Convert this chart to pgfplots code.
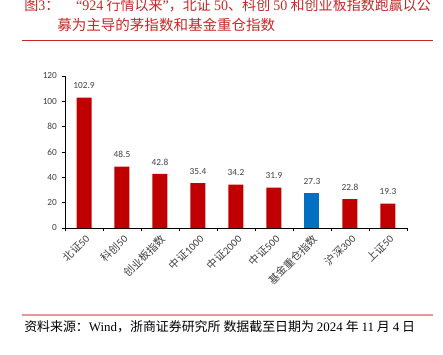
\documentclass[border=0pt]{standalone}
\usepackage{fontspec}
\setmainfont{Carlito}
\newfontfamily\cjk{Noto Sans CJK SC}
\newfontfamily\serifl{Liberation Serif}
\usepackage{graphicx}
\usepackage{pgfplots}
\pgfplotsset{compat=1.18}
\definecolor{barred}{HTML}{C00000}
\definecolor{barblue}{HTML}{0070C0}
\definecolor{titlered}{HTML}{C62828}
\definecolor{rulepink}{HTML}{E59A9A}
\definecolor{labgray}{HTML}{404040}
\begin{document}
\begin{tikzpicture}[x=0.75pt,y=0.75pt]
\useasboundingbox (0,0) rectangle (443,354);
% title
\node[anchor=base west, inner sep=0pt, text=titlered, font=\fontsize{10.9pt}{12pt}\selectfont] at (24,343)
  {\resizebox{305pt}{\height}{{\cjk 图}{\serifl 3}{\cjk ：}\hspace{1.2em}{\serifl “924} {\cjk 行情以来}{\serifl ”}{\cjk ，北证} {\serifl 50}{\cjk 、科创} {\serifl 50} {\cjk 和创业板指数跑赢以公}}};
\node[anchor=base west, inner sep=0pt, text=titlered, font=\fontsize{10.9pt}{12pt}\selectfont] at (57,323)
  {{\cjk 募为主导的茅指数和基金重仓指数}};
\draw[titlered, line width=0.75pt] (22,313.5) -- (433,313.5);
% bottom rule and source
\draw[rulepink, line width=1.1pt] (22,39) -- (433,39);
\node[anchor=base west, inner sep=0pt, text=black, font=\fontsize{9.7pt}{10pt}\selectfont] at (24,22.5)
  {{\cjk 资料来源：}{\serifl Wind}{\cjk ，浙商证券研究所 数据截至日期为} {\serifl 2024} {\cjk 年} {\serifl 11} {\cjk 月} {\serifl 4} {\cjk 日}};
\begin{axis}[
  at={(48.75pt,94.5pt)}, anchor=south west,
  scale only axis, width=256.5pt, height=114pt,
  xmin=-0.5, xmax=8.5, ymin=0, ymax=120,
  axis x line*=bottom, axis y line*=left,
  axis line style={black, line width=0.6pt},
  ytick={0,20,...,120},
  xtick={0,...,8},
  xticklabels={{\cjk 北证}50,{\cjk 科创}50,{\cjk 创业板指数},{\cjk 中证}1000,{\cjk 中证}2000,{\cjk 中证}500,{\cjk 基金重仓指数},{\cjk 沪深}300,{\cjk 上证}50},
  minor xtick={-0.5,0.5,...,8.5},
  major x tick style={draw=none},
  minor x tick style={black, line width=0.6pt},
  y tick style={black, line width=0.6pt},
  tick align=outside,
  major tick length=2.5pt, minor tick length=2.5pt,
  /pgf/number format/assume math mode=true,
  yticklabel style={font=\fontsize{7pt}{8pt}\selectfont, text=labgray},
  xticklabel style={font=\fontsize{8pt}{9pt}\selectfont, text=labgray, rotate=45, anchor=north east, inner sep=1pt},
  ybar, bar width=11.25pt, bar shift=0pt,
  nodes near coords,
  every node near coord/.append style={font=\fontsize{7pt}{8pt}\selectfont, text=labgray, yshift=3pt},
  nodes near coords style={/pgf/number format/.cd, fixed, fixed zerofill, precision=1, assume math mode=true},
  clip=false,
]
\addplot[fill=barred, draw=none] coordinates {(0,102.9) (1,48.5) (2,42.8) (3,35.4) (4,34.2) (5,31.9) (7,22.8) (8,19.3)};
\addplot[fill=barblue, draw=none] coordinates {(6,27.3)};
\end{axis}
\end{tikzpicture}
\end{document}
